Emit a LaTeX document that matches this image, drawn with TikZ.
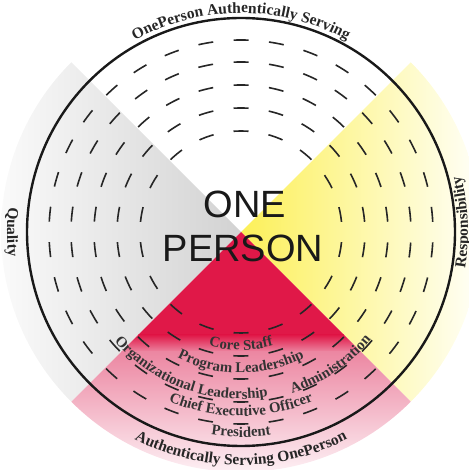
\documentclass[tikz,border=0pt]{standalone}
\usepackage{fontspec}
\setmainfont{Liberation Serif}
\setsansfont{Liberation Sans}
\usetikzlibrary{calc, decorations.text}

\definecolor{crimson}{RGB}{224,24,72}
\definecolor{rosepink}{RGB}{236,135,162}
\definecolor{rosepale}{RGB}{253,240,244}
\definecolor{sunyellow}{RGB}{252,240,88}
\definecolor{sunpale}{RGB}{255,255,250}
\definecolor{stonegray}{RGB}{210,210,210}
\definecolor{stonepale}{RGB}{250,250,250}

\newcommand{\ringouterfont}{\fontsize{15.5}{18}\selectfont\bfseries}
\newcommand{\ringinnerfont}{\fontsize{14.8}{18}\selectfont\bfseries}

\begin{document}
\begin{tikzpicture}[
  x=1pt, y=1pt,
  rim/.style={draw=black!90, line width=2.4pt},
  dashring/.style={draw=black!85, line width=1.6pt},
  bigword/.style={font=\sffamily\fontsize{38}{44}\selectfont, text=black!90,
    inner sep=0pt},
  outerlabel/.style={decorate, decoration={text along path, text align=center,
    text color=black!85, text={|\ringouterfont|#1}}},
  innerlabel/.style={decorate, decoration={text along path, text align=center,
    text color=black!80, text={|\ringinnerfont|#1}}}
]
  \useasboundingbox (0,0) rectangle (468,470);
  \coordinate (c) at (241,238);

  % Quadrant wedges
  \begin{scope}
    \clip (c) -- ++(135:240pt) arc[start angle=135, end angle=225, radius=240pt] -- cycle;
    \shade[left color=stonepale, right color=stonegray] (1,0) rectangle (241,470);
  \end{scope}
  \begin{scope}
    \clip (c) -- ++(-45:240pt) arc[start angle=-45, end angle=45, radius=240pt] -- cycle;
    \shade[left color=sunyellow, right color=sunpale] (241,0) rectangle (481,470);
  \end{scope}
  \begin{scope}
    \clip (c) -- ++(225:240pt) arc[start angle=225, end angle=315, radius=240pt] -- cycle;
    \fill[crimson] (0,135) rectangle (468,240);
    \shade[top color=crimson, bottom color=rosepink] (0,118) rectangle (468,135);
    \shade[top color=rosepink, bottom color=rosepale] (0,-2) rectangle (468,118);
  \end{scope}

  % Dashed rings and rim
  \draw[dashring, dash pattern=on 15pt off 20.26pt, dash phase=25.15pt] (c) circle[radius=101pt];
  \draw[dashring, dash pattern=on 15pt off 20.41pt, dash phase=25.19pt] (c) circle[radius=124pt];
  \draw[dashring, dash pattern=on 15pt off 20.52pt, dash phase=25.25pt] (c) circle[radius=147pt];
  \draw[dashring, dash pattern=on 15pt off 20.60pt, dash phase=25.26pt] (c) circle[radius=170pt];
  \draw[dashring, dash pattern=on 15pt off 20.48pt, dash phase=25.26pt] (c) circle[radius=192pt];
  \draw[rim] (c) circle[radius=214pt];

  % Centre words
  \node[bigword, anchor=base] (one) at (245,252) {ONE};
  \node[bigword, anchor=base] (person) at (243,208) {PERSON};

  % Outer labels
  \path[outerlabel={OnePerson Authentically Serving}]
    ($(c)+(150:219pt)$) arc[start angle=150, end angle=30, radius=219pt];
  \path[outerlabel={Authentically Serving OnePerson}]
    ($(c)+(-150:233pt)$) arc[start angle=-150, end angle=-30, radius=233pt];
  \path[outerlabel={Quality}]
    ($(c)+(150:234pt)$) arc[start angle=150, end angle=210, radius=234pt];
  \path[outerlabel={Responsibility}]
    ($(c)+(-27.5:227pt)$) arc[start angle=-27.5, end angle=32.5, radius=227pt];

  % Inner labels
  \path[innerlabel={Core Staff}]
    ($(c)+(-150:118pt)$) arc[start angle=-150, end angle=-30, radius=118pt];
  \path[innerlabel={Program Leadership}]
    ($(c)+(-150:141pt)$) arc[start angle=-150, end angle=-30, radius=141pt];
  \path[innerlabel={Organizational Leadership}]
    ($(c)+(-170:167pt)$) arc[start angle=-170, end angle=-50, radius=167pt];
  \path[innerlabel={Administration}]
    ($(c)+(-86:169pt)$) arc[start angle=-86, end angle=-26, radius=169pt];
  \path[innerlabel={Chief Executive Officer}]
    ($(c)+(-150:184pt)$) arc[start angle=-150, end angle=-30, radius=184pt];
  \path[innerlabel={President}]
    ($(c)+(-150:205pt)$) arc[start angle=-150, end angle=-30, radius=205pt];
\end{tikzpicture}
\end{document}
